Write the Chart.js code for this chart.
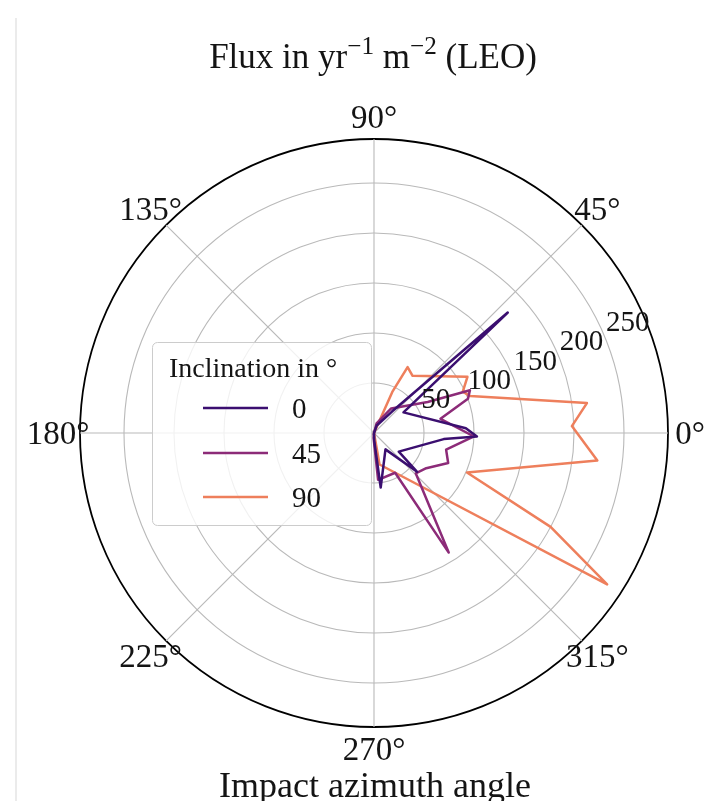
<!DOCTYPE html>
<html>
<head>
<meta charset="utf-8">
<script src="https://cdn.jsdelivr.net/npm/chart.js@4.4.1/dist/chart.umd.min.js"></script>
<style>
  html, body { margin: 0; padding: 0; background: #ffffff; }
  canvas { display: block; }
</style>
</head>
<body>
<canvas id="flux" width="706" height="801"></canvas>
<script>
// Radial axis: outer limit and labelled rings (flux in yr^-1 m^-2)
const R_MAX = 294;
const radialTicks = [50, 100, 150, 200, 250];
// Labelled azimuth directions in degrees (counter-clockwise from east)
const angleTicks = [0, 45, 90, 135, 180, 225, 270, 315];

// Legend entries: orbit inclination in degrees
const inclinations = ['0', '45', '90'];
const lineColors = ['#3b0f70', '#8c2b78', '#ee7f5c'];

// Inclination 0: azimuth (deg) and flux of each vertex
const inc0Azimuth = [120, 70, 50, 42, 35, 3, -2, -5, -37, -42, -55, -83, -88, -120];
const inc0Flux    = [0,   8,  28, 180, 36, 92, 103, 70, 31, 58, 20, 55, 8, 0];

// Inclination 45
const inc45Azimuth = [120, 75, 55, 30, 24, 20, 12, -2, -13, -22, -34, -44, -58, -62, -85, -95, -130];
const inc45Flux    = [0,   10, 30, 62, 105, 100, 68, 100, 74, 80, 63, 58, 141, 45, 47, 5, 0];

// Inclination 90
const inc90Azimuth = [130, 66, 63, 56, 31, 25, 21, 8, 2, -7, -23, -28, -33, -80, -100];
const inc90Flux    = [0,   45, 74, 69, 109, 98, 103, 215, 198, 225, 101, 200, 278, 32, 0];

// One radar spoke per degree; spokes run clockwise, so azimuth decreases with index
const azimuthDeg = Array.from({ length: 360 }, (_, i) => (360 - i) % 360);
const spokeOf = a => ((360 - Math.round(a)) % 360 + 360) % 360;

function toSpokes(az, flux) {
  const out = new Array(360).fill(null);
  az.forEach((a, k) => { out[spokeOf(a)] = flux[k]; });
  return out;
}

const SERIF = '"Liberation Serif", "Times New Roman", serif';
const INK = '#141414';
const GRID = '#b9b9b9';

function drawRuns(ctx, runs, cx, baseline, size) {
  let total = 0;
  const parts = runs.map(r => {
    const s = r.sup ? size * 0.72 : size;
    ctx.font = `${s}px ${SERIF}`;
    const w = ctx.measureText(r.text).width;
    total += w;
    return { r, s, w };
  });
  let x = cx - total / 2;
  ctx.textAlign = 'left';
  ctx.textBaseline = 'alphabetic';
  parts.forEach(p => {
    ctx.font = `${p.s}px ${SERIF}`;
    ctx.fillText(p.r.text, x, baseline - (p.r.sup ? size * 0.4 : 0));
    x += p.w;
  });
}

const decorations = {
  id: 'decorations',
  beforeDraw(chart) {
    const ctx = chart.ctx;
    ctx.save();
    ctx.fillStyle = '#ffffff';
    ctx.fillRect(0, 0, chart.width, chart.height);
    ctx.fillStyle = '#ebebeb';
    ctx.fillRect(15, 18, 2, chart.height - 18);
    ctx.restore();
  },
  afterDatasetsDraw(chart) {
    const ctx = chart.ctx;
    ctx.save();
    // legend frame
    ctx.beginPath();
    ctx.roundRect(152.5, 342.5, 219, 183, 5);
    ctx.fillStyle = 'rgba(255,255,255,0.8)';
    ctx.fill();
    ctx.strokeStyle = '#cccccc';
    ctx.lineWidth = 1;
    ctx.stroke();
    ctx.fillStyle = INK;
    ctx.font = `28px ${SERIF}`;
    ctx.textAlign = 'left';
    ctx.textBaseline = 'alphabetic';
    ctx.fillText('Inclination in °', 169, 377);
    const rows = [408, 453, 497];
    inclinations.forEach((name, i) => {
      ctx.strokeStyle = lineColors[i];
      ctx.lineWidth = 2.5;
      ctx.beginPath();
      ctx.moveTo(203, rows[i]);
      ctx.lineTo(268, rows[i]);
      ctx.stroke();
      ctx.fillStyle = INK;
      ctx.font = `29px ${SERIF}`;
      ctx.fillText(name, 292, rows[i] + 10);
    });
    ctx.restore();
  },
  afterDraw(chart) {
    const ctx = chart.ctx;
    const scale = chart.scales.r;
    ctx.save();
    ctx.fillStyle = INK;
    // azimuth labels outside the rim
    const aSize = 33;
    ctx.font = `${aSize}px ${SERIF}`;
    ctx.textAlign = 'center';
    ctx.textBaseline = 'alphabetic';
    angleTicks.forEach(a => {
      const p = scale.getPointPosition(spokeOf(a), scale.drawingArea + 22);
      ctx.fillText(`${a}°`, p.x, p.y + aSize * 0.33);
    });
    // radial labels along the 22.5 degree direction
    const rAng = 22.5 * Math.PI / 180;
    ctx.font = `29px ${SERIF}`;
    ctx.textAlign = 'left';
    radialTicks.forEach(v => {
      const d = scale.getDistanceFromCenterForValue(v);
      const x = scale.xCenter + d * Math.cos(rAng);
      const y = scale.yCenter - d * Math.sin(rAng);
      ctx.fillText(String(v), x + 1, y - 6);
    });
    // title and axis label
    drawRuns(ctx, [
      { text: 'Flux in yr' },
      { text: '−1', sup: true },
      { text: ' m' },
      { text: '−2', sup: true },
      { text: ' (LEO)' }
    ], 373, 68, 35);
    drawRuns(ctx, [{ text: 'Impact azimuth angle' }], 375, 797, 36);
    ctx.restore();
  }
};

const makeSet = (label, az, flux, color) => ({
  label,
  data: toSpokes(az, flux),
  borderColor: color,
  borderWidth: 2.5,
  backgroundColor: 'transparent',
  fill: false,
  spanGaps: true,
  tension: 0,
  pointRadius: 0,
  pointHoverRadius: 0,
  borderJoinStyle: 'round'
});

new Chart(document.getElementById('flux'), {
  type: 'radar',
  data: {
    labels: azimuthDeg.map(a => `${a}°`),
    datasets: [
      makeSet(inclinations[0], inc0Azimuth, inc0Flux, lineColors[0]),
      makeSet(inclinations[1], inc45Azimuth, inc45Flux, lineColors[1]),
      makeSet(inclinations[2], inc90Azimuth, inc90Flux, lineColors[2])
    ]
  },
  options: {
    responsive: false,
    animation: false,
    events: [],
    layout: { padding: { left: 80, top: 139, right: 38, bottom: 74 } },
    plugins: { legend: { display: false }, tooltip: { enabled: false } },
    scales: {
      r: {
        min: 0,
        max: R_MAX,
        startAngle: 90,
        ticks: { display: false, stepSize: 50 },
        afterBuildTicks: s => { s.ticks = [0, ...radialTicks, R_MAX].map(v => ({ value: v })); },
        grid: {
          circular: true,
          color: c => (c.tick && c.tick.value === R_MAX ? '#000000' : GRID),
          lineWidth: c => (c.tick && c.tick.value === R_MAX ? 1.8 : 1.1)
        },
        angleLines: {
          display: true,
          color: c => (azimuthDeg[c.index] % 45 === 0 ? GRID : 'rgba(0,0,0,0)'),
          lineWidth: c => (azimuthDeg[c.index] % 45 === 0 ? 1.1 : 0)
        },
        pointLabels: { display: false }
      }
    }
  },
  plugins: [decorations]
});
</script>
</body>
</html>
